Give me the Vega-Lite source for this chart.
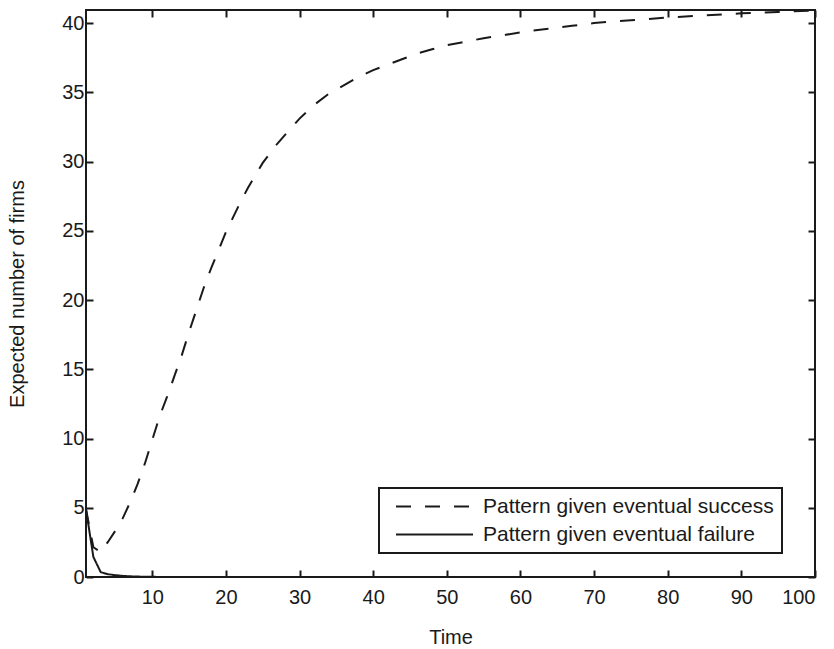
{
  "$schema": "https://vega.github.io/schema/vega-lite/v6.json",
  "width": 729,
  "height": 567,
  "autosize": {"type": "none"},
  "padding": {"left": 86, "top": 10, "right": 19, "bottom": 72},
  "background": "white",
  "data": {
    "values": [
      {"t": 1, "v": 4.9, "series": "Pattern given eventual success"},
      {"t": 2, "v": 2.15, "series": "Pattern given eventual success"},
      {"t": 3, "v": 1.8, "series": "Pattern given eventual success"},
      {"t": 4, "v": 2.55, "series": "Pattern given eventual success"},
      {"t": 5, "v": 3.35, "series": "Pattern given eventual success"},
      {"t": 6, "v": 4.25, "series": "Pattern given eventual success"},
      {"t": 7, "v": 5.4, "series": "Pattern given eventual success"},
      {"t": 8, "v": 6.7, "series": "Pattern given eventual success"},
      {"t": 9, "v": 8.2, "series": "Pattern given eventual success"},
      {"t": 10, "v": 9.9, "series": "Pattern given eventual success"},
      {"t": 11, "v": 11.6, "series": "Pattern given eventual success"},
      {"t": 12, "v": 13.0, "series": "Pattern given eventual success"},
      {"t": 13, "v": 14.5, "series": "Pattern given eventual success"},
      {"t": 14, "v": 16.0, "series": "Pattern given eventual success"},
      {"t": 15, "v": 17.7, "series": "Pattern given eventual success"},
      {"t": 16, "v": 19.3, "series": "Pattern given eventual success"},
      {"t": 17, "v": 20.9, "series": "Pattern given eventual success"},
      {"t": 18, "v": 22.3, "series": "Pattern given eventual success"},
      {"t": 19, "v": 23.6, "series": "Pattern given eventual success"},
      {"t": 20, "v": 24.9, "series": "Pattern given eventual success"},
      {"t": 21, "v": 26.0, "series": "Pattern given eventual success"},
      {"t": 22, "v": 27.1, "series": "Pattern given eventual success"},
      {"t": 23, "v": 28.1, "series": "Pattern given eventual success"},
      {"t": 24, "v": 29.0, "series": "Pattern given eventual success"},
      {"t": 25, "v": 29.9, "series": "Pattern given eventual success"},
      {"t": 26, "v": 30.6, "series": "Pattern given eventual success"},
      {"t": 27, "v": 31.3, "series": "Pattern given eventual success"},
      {"t": 28, "v": 31.9, "series": "Pattern given eventual success"},
      {"t": 29, "v": 32.5, "series": "Pattern given eventual success"},
      {"t": 30, "v": 33.1, "series": "Pattern given eventual success"},
      {"t": 32, "v": 34.1, "series": "Pattern given eventual success"},
      {"t": 34, "v": 34.9, "series": "Pattern given eventual success"},
      {"t": 36, "v": 35.5, "series": "Pattern given eventual success"},
      {"t": 38, "v": 36.1, "series": "Pattern given eventual success"},
      {"t": 40, "v": 36.6, "series": "Pattern given eventual success"},
      {"t": 42, "v": 37.0, "series": "Pattern given eventual success"},
      {"t": 44, "v": 37.4, "series": "Pattern given eventual success"},
      {"t": 46, "v": 37.8, "series": "Pattern given eventual success"},
      {"t": 48, "v": 38.1, "series": "Pattern given eventual success"},
      {"t": 50, "v": 38.4, "series": "Pattern given eventual success"},
      {"t": 52, "v": 38.6, "series": "Pattern given eventual success"},
      {"t": 55, "v": 38.9, "series": "Pattern given eventual success"},
      {"t": 58, "v": 39.15, "series": "Pattern given eventual success"},
      {"t": 61, "v": 39.4, "series": "Pattern given eventual success"},
      {"t": 64, "v": 39.6, "series": "Pattern given eventual success"},
      {"t": 67, "v": 39.8, "series": "Pattern given eventual success"},
      {"t": 70, "v": 40.0, "series": "Pattern given eventual success"},
      {"t": 75, "v": 40.2, "series": "Pattern given eventual success"},
      {"t": 80, "v": 40.4, "series": "Pattern given eventual success"},
      {"t": 85, "v": 40.55, "series": "Pattern given eventual success"},
      {"t": 90, "v": 40.7, "series": "Pattern given eventual success"},
      {"t": 95, "v": 40.8, "series": "Pattern given eventual success"},
      {"t": 100, "v": 40.9, "series": "Pattern given eventual success"},
      {"t": 1, "v": 4.9, "series": "Pattern given eventual failure"},
      {"t": 2, "v": 1.45, "series": "Pattern given eventual failure"},
      {"t": 3, "v": 0.35, "series": "Pattern given eventual failure"},
      {"t": 4, "v": 0.2, "series": "Pattern given eventual failure"},
      {"t": 5, "v": 0.13, "series": "Pattern given eventual failure"},
      {"t": 6, "v": 0.08, "series": "Pattern given eventual failure"},
      {"t": 7, "v": 0.05, "series": "Pattern given eventual failure"},
      {"t": 8, "v": 0.03, "series": "Pattern given eventual failure"},
      {"t": 10, "v": 0.01, "series": "Pattern given eventual failure"},
      {"t": 15, "v": 0.0, "series": "Pattern given eventual failure"},
      {"t": 30, "v": 0.0, "series": "Pattern given eventual failure"},
      {"t": 50, "v": 0.0, "series": "Pattern given eventual failure"},
      {"t": 75, "v": 0.0, "series": "Pattern given eventual failure"},
      {"t": 100, "v": 0.0, "series": "Pattern given eventual failure"}
    ]
  },
  "layer": [
    {
      "mark": {"type": "line", "color": "#1a1a1a", "strokeWidth": 2, "clip": true},
      "encoding": {
        "x": {"field": "t", "type": "quantitative", "scale": {"domain": [1, 100], "nice": false, "zero": false},
              "axis": {"title": "Time", "values": [10, 20, 30, 40, 50, 60, 70, 80, 90, 100], "labelPadding": 17, "titlePadding": 20}},
        "y": {"field": "v", "type": "quantitative", "scale": {"domain": [0, 40.94], "nice": false},
              "axis": {"title": "Expected number of firms", "values": [0, 5, 10, 15, 20, 25, 30, 35, 40], "labelPadding": 9, "titlePadding": 34}},
        "strokeDash": {"field": "series", "type": "nominal",
          "scale": {"domain": ["Pattern given eventual success", "Pattern given eventual failure"], "range": [[15, 14], [1, 0]]},
          "legend": {"title": null, "orient": "none", "legendX": 293, "legendY": 478,
            "symbolType": "M-5,0H5", "symbolSize": 237, "symbolStrokeWidth": 2, "symbolStrokeColor": "#1a1a1a",
            "symbolOffset": 37, "labelOffset": 38,
            "labelFontSize": 21, "labelColor": "#1a1a1a", "labelLimit": 500,
            "padding": 8, "rowPadding": 6, "strokeColor": "#1a1a1a", "fillColor": "white",
            "encode": {"legend": {"update": {"strokeWidth": {"value": 2}}}}}
        }
      }
    },
    {
      "mark": {"type": "line", "opacity": 0},
      "encoding": {
        "x": {"field": "t", "type": "quantitative",
              "axis": {"orient": "top", "title": null, "labels": false, "values": [10, 20, 30, 40, 50, 60, 70, 80, 90, 100]}},
        "y": {"field": "v", "type": "quantitative",
              "axis": {"orient": "right", "title": null, "labels": false, "values": [0, 5, 10, 15, 20, 25, 30, 35, 40]}},
        "detail": {"field": "series", "type": "nominal"}
      }
    }
  ],
  "resolve": {"axis": {"x": "independent", "y": "independent"}},
  "config": {
    "font": "Liberation Sans",
    "view": {"stroke": "#1a1a1a", "strokeWidth": 2},
    "axis": {"grid": false, "domain": false, "tickColor": "#1a1a1a", "tickWidth": 2, "tickSize": -7,
             "labelColor": "#1a1a1a", "labelFontSize": 20, "titleFontSize": 20, "titleFontWeight": "normal", "titleColor": "#1a1a1a"}
  }
}
